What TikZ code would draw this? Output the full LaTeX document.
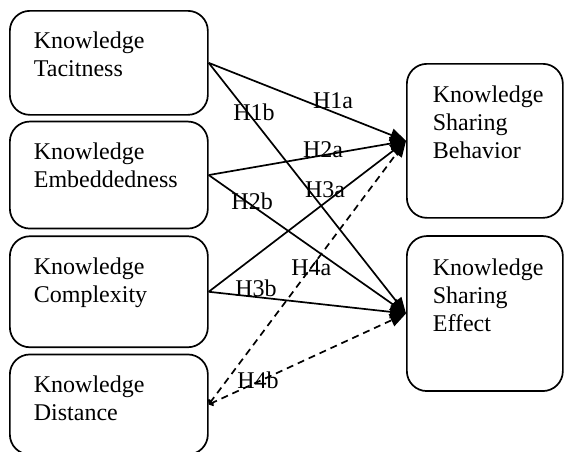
\documentclass[tikz,border=0pt]{standalone}
\usepackage{fontspec}
\setmainfont{Liberation Serif}
\usetikzlibrary{positioning,arrows.meta}

\begin{document}
\begin{tikzpicture}[x=1pt, y=-1pt, font=\fontsize{24pt}{28pt}\selectfont,
  box/.style={draw, rounded corners=20pt, line width=1.7pt, anchor=north west, align=left, inner ysep=0pt},
  lbox/.style={box, text width=150pt, inner xsep=24pt, text height=38pt},
  rbox/.style={box, text width=104pt, inner xsep=26pt, text height=39pt},
  link/.style={line width=1.7pt, -{Triangle[length=16pt,width=13pt]}},
  weak/.style={line width=1.7pt, dash pattern=on 7pt off 5pt, {Straight Barb[length=3pt,width=6pt]}-{Triangle[length=16pt,width=13pt]}}]

\path[clip, use as bounding box] (0,0) rectangle (564,451);


\node[lbox, text depth=66pt] (kt) at (9,10) {Knowledge\\Tacitness};
\node[lbox, text depth=69pt] (ke) [below=5pt of kt] {Knowledge\\Embeddedness};
\node[lbox, text depth=73pt] (kc) [below=6pt of ke] {Knowledge\\Complexity};
\node[lbox, text depth=62pt] (kd) [below=5.5pt of kc] {Knowledge\\Distance};


\node[rbox, text depth=115pt] (sb) at (406,63) {Knowledge\\Sharing\\Behavior};
\node[rbox, text depth=116pt] (se) [below=16.5pt of sb] {Knowledge\\Sharing\\Effect};


\path[link]
(kt.east) edge node[pos=0.63, yshift=11pt] {H1a} (sb.west)
(kt.east) edge node[pos=0.23, yshift=8pt] {H1b} (se.west);


\path[link]
(ke.east) edge node[pos=0.58, yshift=6pt] {H2a} (sb.west)
(ke.east) edge node[pos=0.22, yshift=4.5pt] {H2b} (se.west);


\path[link]
(kc.east) edge node[pos=0.59, yshift=13pt] {H3a} (sb.west)
(kc.east) edge node[pos=0.24, yshift=8.5pt] {H3b} (se.west);


\path[weak]
(kd.east) edge node[pos=0.52] {H4a} (sb.west)
(kd.east) edge node[pos=0.25, yshift=1pt] {H4b} (se.west);

\end{tikzpicture}
\end{document}
